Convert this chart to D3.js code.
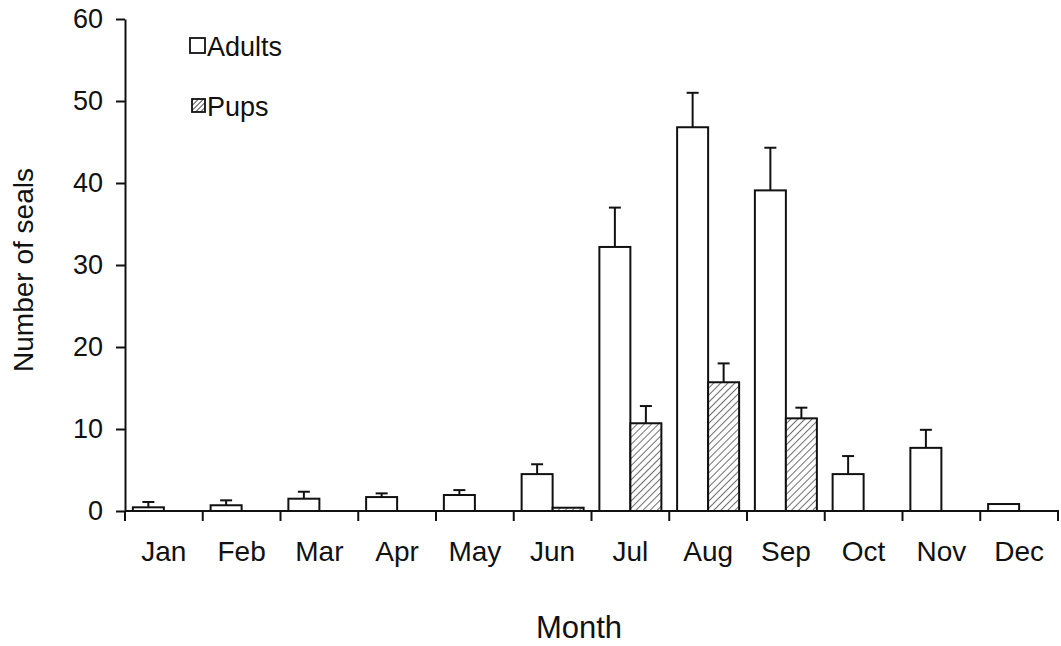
<!DOCTYPE html>
<html>
<head>
<meta charset="utf-8">
<script src="https://cdn.jsdelivr.net/npm/d3@7"></script>
<style>
  html, body { margin: 0; padding: 0; background: #fff; }
  svg { display: block; font-family: "Liberation Sans", Arial, sans-serif; }
</style>
</head>
<body>
<svg id="chart" width="1061" height="646"></svg>
<script>
const months = ["Jan","Feb","Mar","Apr","May","Jun","Jul","Aug","Sep","Oct","Nov","Dec"];
const seriesNames = ["Adults","Pups"];
const adults    = [0.45, 0.7, 1.5, 1.7, 1.95, 4.5, 32.2, 46.8, 39.1, 4.5, 7.7, 0.85];
const adultsErr = [0.65, 0.6, 0.85, 0.45, 0.6, 1.2, 4.8, 4.2, 5.2, 2.2, 2.2, 0];
const pups      = [0, 0, 0, 0, 0, 0.4, 10.7, 15.7, 11.3, 0, 0, 0];
const pupsErr   = [0, 0, 0, 0, 0, 0, 2.1, 2.3, 1.3, 0, 0, 0];
const yTicks = [0, 10, 20, 30, 40, 50, 60];

(function () {
const svg = d3.select("#chart");
const mLeft = 125, mRight = 1058, mTop = 19, mBottom = 511;

const defs = svg.append("defs");
const pat = defs.append("pattern").attr("id", "hatch")
  .attr("patternUnits", "userSpaceOnUse").attr("width", 5).attr("height", 5)
  .attr("patternTransform", "rotate(45)");
pat.append("rect").attr("width", 5).attr("height", 5).attr("fill", "#fff");
pat.append("line").attr("x1", 0).attr("y1", 0).attr("x2", 0).attr("y2", 5)
  .attr("stroke", "#222").attr("stroke-width", 1.3);

const patL = defs.append("pattern").attr("id", "hatchL")
  .attr("patternUnits", "userSpaceOnUse").attr("width", 3.5).attr("height", 3.5)
  .attr("patternTransform", "rotate(45)");
patL.append("rect").attr("width", 3.5).attr("height", 3.5).attr("fill", "#fff");
patL.append("line").attr("x1", 0).attr("y1", 0).attr("x2", 0).attr("y2", 3.5)
  .attr("stroke", "#222").attr("stroke-width", 1.5);

const x = d3.scaleBand().domain(months).range([mLeft, mRight]).padding(0);
const xs = d3.scaleBand().domain(seriesNames).range([0, x.bandwidth()])
  .paddingInner(0).paddingOuter(0.254);
const y = d3.scaleLinear().domain([0, 60]).range([mBottom, mTop]);

const data = months.map((m, i) => [
  { m, s: "Adults", v: adults[i], e: adultsErr[i] },
  { m, s: "Pups", v: pups[i], e: pupsErr[i] }
]).flat();

const g = svg.append("g");

g.selectAll("rect.bar").data(data.filter(d => d.v > 0)).join("rect")
  .attr("class", "bar")
  .attr("x", d => x(d.m) + xs(d.s))
  .attr("width", xs.bandwidth())
  .attr("y", d => y(d.v))
  .attr("height", d => y(0) - y(d.v))
  .attr("fill", d => d.s === "Adults" ? "#fff" : "url(#hatch)")
  .attr("stroke", "#111")
  .attr("stroke-width", 2);

const eb = data.filter(d => d.e > 0);
g.selectAll("line.err").data(eb).join("line")
  .attr("class", "err")
  .attr("x1", d => x(d.m) + xs(d.s) + xs.bandwidth() / 2)
  .attr("x2", d => x(d.m) + xs(d.s) + xs.bandwidth() / 2)
  .attr("y1", d => y(d.v))
  .attr("y2", d => y(d.v + d.e))
  .attr("stroke", "#111").attr("stroke-width", 2);
g.selectAll("line.cap").data(eb).join("line")
  .attr("class", "cap")
  .attr("x1", d => x(d.m) + xs(d.s) + xs.bandwidth() / 2 - 6)
  .attr("x2", d => x(d.m) + xs(d.s) + xs.bandwidth() / 2 + 6)
  .attr("y1", d => y(d.v + d.e))
  .attr("y2", d => y(d.v + d.e))
  .attr("stroke", "#111").attr("stroke-width", 2);

const yAxis = d3.axisLeft(y).tickValues(yTicks).tickSize(9).tickSizeOuter(0).tickPadding(13);
const ya = svg.append("g").attr("transform", `translate(${mLeft},0)`).call(yAxis);
ya.select(".domain").attr("stroke", "#111").attr("stroke-width", 2);
ya.selectAll(".tick line").attr("stroke", "#111").attr("stroke-width", 2);
ya.selectAll(".tick text").attr("font-size", 27).attr("fill", "#111")
  .attr("font-family", "Liberation Sans, Arial, sans-serif");

const xa = svg.append("g").attr("transform", `translate(0,${mBottom})`);
xa.append("line").attr("x1", mLeft).attr("x2", mRight + 1).attr("y1", 0).attr("y2", 0)
  .attr("stroke", "#111").attr("stroke-width", 2);
const bounds = months.map(m => x(m)).concat([x.range()[1]]);
xa.selectAll("line.bt").data(bounds).join("line")
  .attr("class", "bt")
  .attr("x1", d => d).attr("x2", d => d).attr("y1", 0).attr("y2", 10)
  .attr("stroke", "#111").attr("stroke-width", 2);
xa.selectAll("text.ml").data(months).join("text")
  .attr("class", "ml")
  .attr("x", d => x(d) + x.bandwidth() / 2)
  .attr("y", 50)
  .attr("text-anchor", "middle")
  .attr("font-size", 28).attr("fill", "#111")
  .text(d => d);

svg.append("text").attr("x", 579).attr("y", 638).attr("text-anchor", "middle")
  .attr("font-size", 31).attr("fill", "#111").text("Month");
svg.append("text").attr("transform", "translate(33,270) rotate(-90)")
  .attr("text-anchor", "middle").attr("font-size", 28).attr("fill", "#111")
  .text("Number of seals");

const legend = svg.append("g");
const legItems = [
  { name: "Adults", fill: "#fff", cy: 45.5, size: 15, base: 56 },
  { name: "Pups", fill: "url(#hatchL)", cy: 105.5, size: 13, base: 116 }
];
legItems.forEach(it => {
  legend.append("rect").attr("x", 205 - it.size).attr("y", it.cy - it.size / 2)
    .attr("width", it.size).attr("height", it.size)
    .attr("fill", it.fill).attr("stroke", "#111").attr("stroke-width", 1.8);
  legend.append("text").attr("x", 207).attr("y", it.base)
    .attr("font-size", 27).attr("fill", "#111").text(it.name);
});
})();
</script>
</body>
</html>
